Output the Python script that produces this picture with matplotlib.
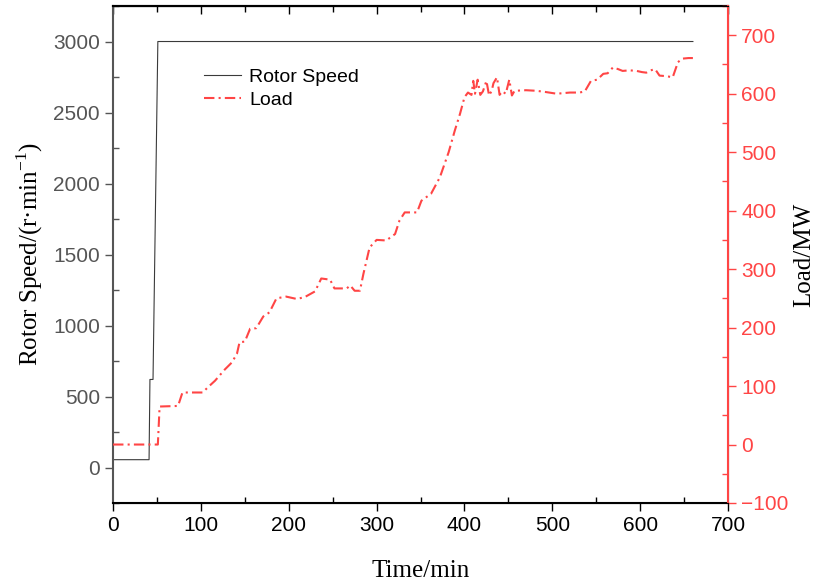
import matplotlib
matplotlib.use("Agg")
import matplotlib.pyplot as plt
from matplotlib.ticker import MultipleLocator

# Rotor speed (r/min) vs time (min)
speed_time = [0, 41, 42, 45.5, 51, 660]
speed_vals = [55, 55, 620, 620, 3000, 3000]

# Load (MW) vs time (min)
load_time = [0, 51, 53, 74, 79, 102, 108, 116, 127, 135, 141, 144, 150, 156, 163,
             171, 178, 186, 197, 209, 218, 230, 237, 247, 252, 266, 270, 275, 281,
             285, 292, 300, 311, 321, 326, 332, 346, 351, 362, 372, 382, 389, 395,
             400, 404, 408, 410, 412, 415, 418, 421, 425, 428, 431, 433, 437, 440,
             443, 447, 451, 454, 457, 470, 482, 492, 505, 520, 531, 537, 544, 551,
             558, 563, 569, 575, 580, 588, 596, 602, 607, 612, 617, 622, 630, 637,
             643, 648, 655, 660]
load_vals = [0, 0, 65, 66, 89, 89, 98, 109, 128, 140, 155, 175, 176, 198, 199,
             219, 226, 250, 253, 249, 252, 262, 284, 282, 267, 267, 272, 263, 263,
             292, 337, 350, 349, 360, 383, 397, 397, 417, 429, 457, 500, 537, 566,
             594, 602, 598, 622, 600, 624, 598, 604, 622, 597, 605, 618, 628, 598,
             604, 600, 624, 597, 605, 606, 605, 603, 600, 602, 602, 604, 622, 624,
             634, 635, 645, 642, 639, 640, 639, 637, 636, 640, 642, 631, 630, 628,
             654, 660, 661, 661]

red = "#ff4545"
gray = "#555555"

plt.rcParams["font.family"] = ["Liberation Sans", "DejaVu Sans"]
fig = plt.figure(figsize=(8.15, 5.84), dpi=100)
ax = fig.add_axes([0.1387, 0.1387, 0.7546, 0.851])
ax2 = ax.twinx()

l1, = ax.plot(speed_time, speed_vals, color="#3a3a3a", lw=0.8, label="Rotor Speed")
l2, = ax2.plot(load_time, load_vals, color=red, lw=1.5, linestyle=(0, (5, 2, 1, 2)),
               label="Load")

ax.set_xlim(0, 700)
ax.set_ylim(-250, 3250)
ax2.set_ylim(-100, 750)

ax.xaxis.set_major_locator(MultipleLocator(100))
ax.xaxis.set_minor_locator(MultipleLocator(50))
ax.yaxis.set_major_locator(MultipleLocator(500))
ax.yaxis.set_minor_locator(MultipleLocator(250))
ax2.yaxis.set_major_locator(MultipleLocator(100))
ax2.yaxis.set_minor_locator(MultipleLocator(50))

ax.tick_params(axis="x", which="major", direction="out", length=6, width=1,
               labelsize=15, colors="black")
ax.tick_params(axis="x", which="minor", direction="in", length=4, width=1)
ax.tick_params(axis="y", which="major", direction="out", length=6, width=1,
               labelsize=15, colors=gray)
ax.tick_params(axis="y", which="minor", direction="in", length=4, width=1, colors=gray)
ax2.tick_params(axis="y", which="major", direction="out", length=6, width=1,
                labelsize=15, colors=red)
ax2.tick_params(axis="y", which="minor", direction="in", length=4, width=1, colors=red)

# top axis: inward ticks, no labels
top = ax.secondary_xaxis("top")
top.xaxis.set_major_locator(MultipleLocator(100))
top.xaxis.set_minor_locator(MultipleLocator(50))
top.tick_params(which="major", direction="in", length=6, width=1, labeltop=False)
top.tick_params(which="minor", direction="in", length=4, width=1)
top.spines["top"].set_linewidth(1.5)

ax.spines["left"].set_color(gray)
ax.spines["left"].set_linewidth(1.5)
ax.spines["bottom"].set_linewidth(1.5)
ax.spines["top"].set_linewidth(1.5)
ax2.spines["right"].set_color(red)
ax2.spines["right"].set_linewidth(1.5)
ax2.spines["left"].set_visible(False)

serif = {"family": ["Liberation Serif", "DejaVu Serif"], "size": 18}
ax.set_xlabel("Time/min", fontdict=serif, labelpad=18)
ax.set_ylabel("Rotor Speed/(r·min$^{\\mathregular{-1}}$)", fontdict=serif, labelpad=6)
ax2.set_ylabel("Load/MW", fontdict=serif, labelpad=3)

ax.legend([l1, l2], ["Rotor Speed", "Load"], loc="upper left",
          bbox_to_anchor=(0.12, 0.91), frameon=False, fontsize=14,
          handlelength=1.9, handletextpad=0.4, labelspacing=0.3)

fig.savefig("out.png", dpi=100)
